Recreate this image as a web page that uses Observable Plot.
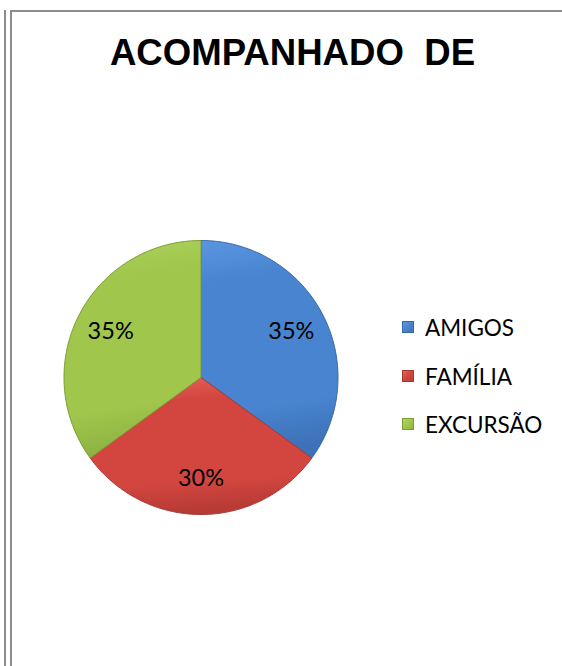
<!DOCTYPE html>
<html><head><meta charset="utf-8">
<script src="https://cdn.jsdelivr.net/npm/d3@7"></script>
<script src="https://cdn.jsdelivr.net/npm/@observablehq/plot@0.6"></script>
<style>
body{margin:0;background:#fff;}
#wrap{position:relative;width:562px;height:666px;overflow:hidden;background:#fff;}
.vl{position:absolute;top:10px;bottom:0;width:2px;background:#8c8c8c;}
#hl{position:absolute;left:10px;right:0;top:10px;height:2px;background:#8c8c8c;}
#title{position:absolute;left:0;width:585px;top:33px;text-align:center;font:bold 36.6px/40px "Liberation Sans",Arial,sans-serif;color:#000;white-space:pre;}
#chart{position:absolute;left:0;top:0;}
.row{position:absolute;left:402px;height:24px;display:flex;align-items:center;font:22.5px Lato,sans-serif;color:#000;white-space:nowrap;}
.sw{width:12px;height:12px;margin-right:11px;box-sizing:border-box;}
</style></head><body>
<div id="wrap">
  <div class="vl" style="left:4px"></div>
  <div class="vl" style="left:10px"></div>
  <div id="hl"></div>
  <div id="title">ACOMPANHADO  DE</div>
  <div id="chart"></div>
  <div id="legend"></div>
</div>
<script>
// ---- data ----
const categories = ["AMIGOS", "FAMÍLIA", "EXCURSÃO"];
const values = [35, 30, 35];
const labels = ["35%", "30%", "35%"];
const title = "ACOMPANHADO  DE";

// ---- styles ----
const baseColors = ["#4a84cf", "#d0453f", "#a0c64c"];
const gradStops = [
  ["#5a96e0", "#4884d0", "#3d72b8"],
  ["#e8625b", "#d2463f", "#b83b36"],
  ["#aed462", "#a0c64c", "#8eb242"]
];
const edgeColors = ["#3a68a4", "#a53a35", "#7c9c36"];

document.getElementById("title").textContent = title;

const data = categories.map((name, i) => ({name, value: values[i], label: labels[i], i}));
const arcs = d3.pie().sort(null).value(d => d.value)(data);

// polygon rows for each slice (angles clockwise from 12 o'clock, r = 1)
const rows = [];
arcs.forEach(a => {
  const n = Math.max(2, Math.ceil((a.endAngle - a.startAngle) / (Math.PI / 180)));
  const g = `url(#grad${a.data.i})`, e = edgeColors[a.data.i];
  rows.push({name: a.data.name, x: 0, y: 0, g, e});
  for (let k = 0; k <= n; k++) {
    const t = a.startAngle + (a.endAngle - a.startAngle) * k / n;
    rows.push({name: a.data.name, x: Math.sin(t), y: Math.cos(t), g, e});
  }
  rows.push({name: a.data.name, x: 0, y: 0, g, e});
});

const labelR = 0.74;
const labelRows = arcs.map(a => {
  const m = (a.startAngle + a.endAngle) / 2;
  return {x: labelR * Math.sin(m), y: labelR * Math.cos(m), label: a.data.label};
});

const W = 562, H = 666;
const cx = 200.5, cy = 377, R = 137;

const svg = Plot.plot({
  width: W, height: H,
  marginLeft: cx - R, marginRight: W - (cx + R),
  marginTop: cy - R, marginBottom: H - (cy + R),
  x: {domain: [-1, 1], axis: null},
  y: {domain: [-1, 1], axis: null},
  color: {type: "identity"},
  style: {fontFamily: "Lato, sans-serif", background: "transparent", overflow: "visible"},
  marks: [
    Plot.line(rows, {x: "x", y: "y", z: "name", fill: "g", stroke: "e", strokeWidth: 1, strokeLinejoin: "round", curve: "linear"}),
    Plot.text(labelRows, {x: "x", y: "y", text: "label", fontSize: 23.5, fill: "#000"})
  ]
});

const defs = d3.select(svg).insert("defs", ":first-child");
gradStops.forEach((stops, i) => {
  const g = defs.append("linearGradient").attr("id", `grad${i}`)
    .attr("x1", 0).attr("y1", 0).attr("x2", 0.1).attr("y2", 1);
  g.append("stop").attr("offset", "0%").attr("stop-color", stops[0]);
  g.append("stop").attr("offset", "20%").attr("stop-color", stops[1]);
  g.append("stop").attr("offset", "80%").attr("stop-color", stops[1]);
  g.append("stop").attr("offset", "100%").attr("stop-color", stops[2]);
});
document.getElementById("chart").append(svg);

// legend
const legendTops = [327, 376, 424];
const legend = document.getElementById("legend");
categories.forEach((name, i) => {
  const row = document.createElement("div");
  row.className = "row";
  row.style.top = (legendTops[i] - 12) + "px";
  const sw = document.createElement("span");
  sw.className = "sw";
  sw.style.background = `linear-gradient(135deg, ${gradStops[i][0]} 0%, ${baseColors[i]} 50%, ${gradStops[i][2]} 100%)`;
  sw.style.border = `1px solid ${edgeColors[i]}`;
  const tx = document.createElement("span");
  tx.textContent = name;
  row.append(sw, tx);
  legend.append(row);
});
</script>
</body></html>
